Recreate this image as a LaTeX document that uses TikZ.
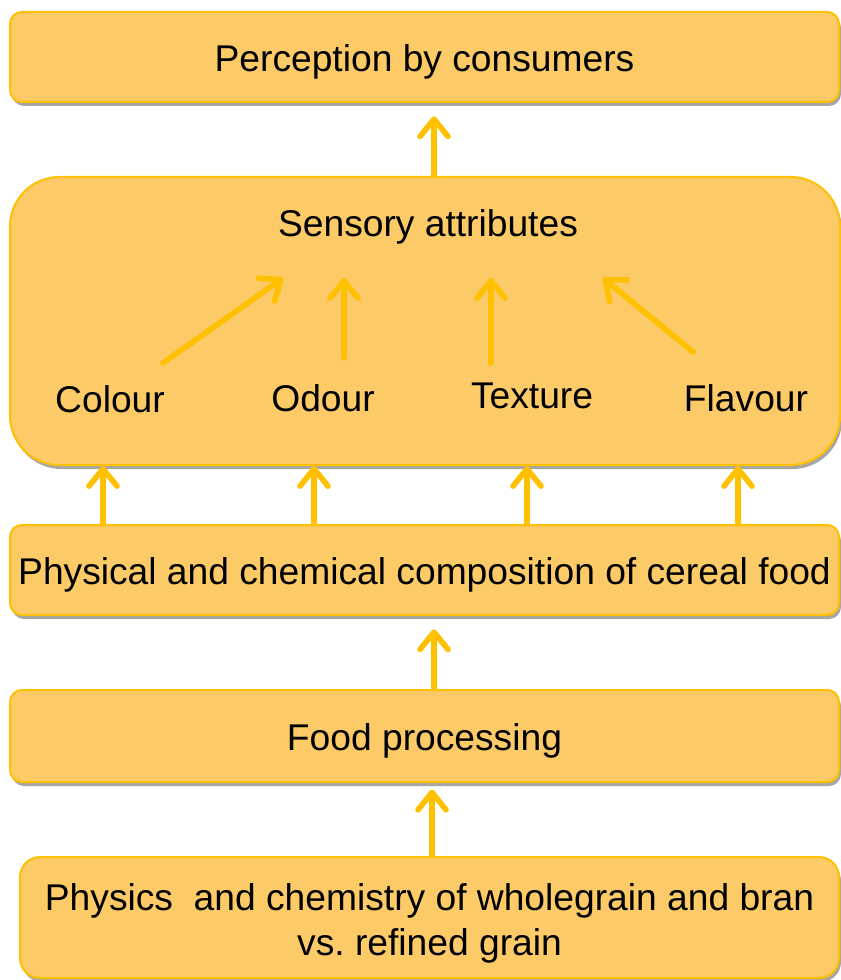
\documentclass[tikz,border=0pt]{standalone}
\usepackage{fontspec}
\setmainfont{Liberation Sans}
\usetikzlibrary{arrows.meta,shadows}
\definecolor{boxfill}{RGB}{252,202,102}
\definecolor{gold}{RGB}{255,192,0}
\tikzset{
	box/.style={draw=gold, line width=1.5pt, fill=boxfill, rounded corners=9pt,
		drop shadow={shadow xshift=1.5pt, shadow yshift=-3pt, opacity=0.35, fill=black},
		font=\fontsize{27.9}{34}\selectfont, align=center, inner sep=0pt,
		text height=27pt, text depth=5.9pt},
	lbl/.style={font=\fontsize{27.9}{34}\selectfont, inner sep=0pt},
	arr/.style={draw=gold, line width=4.2pt, line cap=round,
		-{Straight Barb[round, length=13pt, width=21pt]}}
}
\begin{document}
\frenchspacing
\begin{tikzpicture}[x=0.75pt, y=-0.75pt]
		\useasboundingbox (0,0) rectangle (841,980);
		
		% Define boxes
		\node[box, minimum width=829*0.75pt, minimum height=90*0.75pt] (percep) at (424.5,57) {Perception by consumers};
		\node[box, rounded corners=37pt, minimum width=830*0.75pt, minimum height=288*0.75pt] (sens) at (425,321) {};
		\node[box, minimum width=829*0.75pt, minimum height=90*0.75pt] (comp) at (424.5,570) {Physical and chemical composition of cereal food};
		\node[box, minimum width=829*0.75pt, minimum height=92*0.75pt] (proc) at (424.5,736) {Food processing};
		\node[box, rounded corners=15pt, text height=, text depth=, minimum width=819*0.75pt, minimum height=121*0.75pt] (grain) at (429.5,917.5) {\raisebox{-4.5pt}[\height][\depth]{\shortstack{Physics\ \ and chemistry of wholegrain and bran\\[4.5pt]vs. refined grain}}};
		
		% Sensory attributes
		\node[lbl] (title) at (428,227) {Sensory attributes};
		\node[lbl] (colour) at (110,399) {Colour};
		\node[lbl] (odour) at (323,398) {Odour};
		\node[lbl] (texture) at (532,396) {Texture};
		\node[lbl] (flavour) at (746,398) {Flavour};
		
		% Arrow end points
		\coordinate (c1) at (163,363);
		\coordinate (c2) at (283,278);
		\coordinate (o1) at (344,358);
		\coordinate (o2) at (344,278);
		\coordinate (t1) at (491,363);
		\coordinate (t2) at (491,278);
		\coordinate (f1) at (693,352);
		\coordinate (f2) at (603,278);
		\coordinate (a1) at (103,0);
		\coordinate (a2) at (314,0);
		\coordinate (a3) at (527,0);
		\coordinate (a4) at (738,0);
		\coordinate (m1) at (434,0);
		\coordinate (m2) at (432,0);
		
		% Draw arrows
		\draw[arr] (c1) -- (c2);
		\draw[arr] (o1) -- (o2);
		\draw[arr] (t1) -- (t2);
		\draw[arr] (f1) -- (f2);
		\foreach \a in {a1,a2,a3,a4}
			\draw[arr] (comp.north -| \a) -- (sens.south -| \a);
		\draw[arr] (sens.north -| m1) -- ([yshift=-10pt]percep.south -| m1);
		\draw[arr] (proc.north -| m1) -- ([yshift=-10pt]comp.south -| m1);
		\draw[arr] (grain.north -| m2) -- ([yshift=-5pt]proc.south -| m2);
	\end{tikzpicture}
\end{document}
